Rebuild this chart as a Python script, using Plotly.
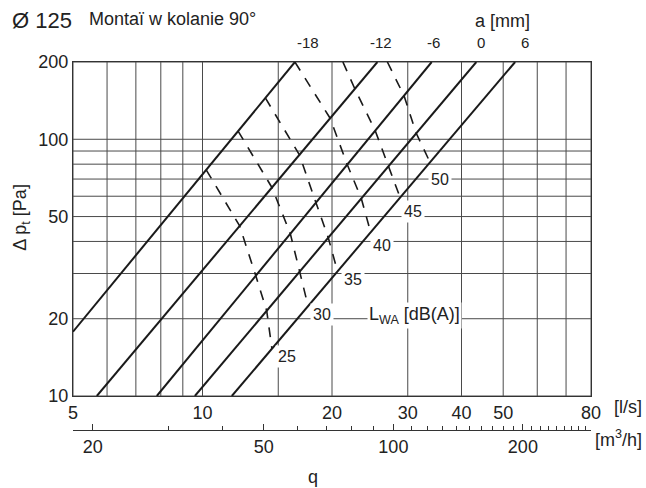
import math
import plotly.graph_objects as go

# Damper setting lines a [mm]: end points (q in l/s, pressure drop in Pa)
damper_labels = ["-18", "-12", "-6", "0", "6"]
damper_q = [[5.0, 16.4], [5.68, 25.5], [7.83, 34.1], [9.6, 43.3], [11.7, 53.3]]
damper_dp = [[17.8, 200], [10, 200], [10, 200], [10, 200], [10, 200]]

# Sound power level curves L_WA [dB(A)]
lwa_levels = ["25", "30", "35", "40", "45", "50"]
lwa_q = [
    [10.2, 12.2, 13.3, 14.1, 14.5],
    [12.1, 14.5, 16.0, 16.8, 17.6],
    [14.0, 16.8, 18.35, 19.6, 20.6],
    [16.4, 19.8, 21.7, 23.4, 24.6],
    [21.2, 22.6, 25.2, 27.05, 28.8],
    [26.9, 29.4, 31.4, 33.8],
]
lwa_dp = [
    [76.0, 46.0, 29.4, 21.5, 15.3],
    [107.6, 64.9, 42.9, 30.4, 22.4],
    [144.9, 87.0, 56.7, 41.4, 30.6],
    [200, 120.8, 79.7, 58.8, 43.4],
    [200, 157.3, 108.1, 78.5, 59.3],
    [200, 147.9, 105.5, 81.3],
]

# Axes
q_ticks = [5, 10, 20, 30, 40, 50, 80]
q_grid = [5, 6, 7, 8, 9, 10, 15, 20, 30, 40, 50, 60, 70, 80]
dp_ticks = [10, 20, 50, 100, 200]
dp_grid = [10, 20, 30, 40, 50, 60, 70, 80, 90, 100, 200]
m3h_major = [20, 50, 100, 200]
m3h_minor = [30, 40, 60, 70, 80, 90, 110, 120, 130, 140, 150, 160, 170, 180,
             190, 210, 220, 230, 240, 250, 260, 270, 280]
q_min, q_max = 5, 80
dp_min, dp_max = 10, 200
LS_TO_M3H = 3.6

FONT = "Liberation Sans, Arial, sans-serif"
TXT = "#222222"
GRID = "#4a4a4a"

fig = go.Figure()

# grid
gx, gy = [], []
for q in q_grid:
    gx += [q, q, None]
    gy += [dp_min, dp_max, None]
for p in dp_grid:
    gx += [q_min, q_max, None]
    gy += [p, p, None]
fig.add_trace(go.Scatter(x=gx, y=gy, mode="lines",
                         line=dict(color=GRID, width=1), hoverinfo="skip"))

# L_WA curves (dashed)
for lvl, qs, ps in zip(lwa_levels, lwa_q, lwa_dp):
    fig.add_trace(go.Scatter(x=qs, y=ps, mode="lines", name=lvl,
                             line=dict(color="#1a1a1a", width=1.6, dash="10px,9px")))

# damper setting lines (solid)
for lab, qs, ps in zip(damper_labels, damper_q, damper_dp):
    fig.add_trace(go.Scatter(x=qs, y=ps, mode="lines", name=lab,
                             line=dict(color="#1a1a1a", width=2)))


def note(x, y, text, size=18, xref="paper", yref="paper", xanchor="center", **kw):
    return dict(x=x, y=y, xref=xref, yref=yref, text=text, showarrow=False,
                xanchor=xanchor, yanchor="middle",
                font=dict(size=size, color=TXT, family=FONT), **kw)


annotations = []
# damper labels along the top
top_label_q = [17.57, 25.95, 34.44, 44.41, 56.1]
for lab, q in zip(damper_labels, top_label_q):
    annotations.append(note(math.log10(q), 1.0524, lab, size=15, xref="x"))
annotations.append(note(0.83, 1.112, "a [mm]"))

# L_WA labels
lwa_label_pos = [(15.70, 14.22), (18.94, 20.68), (22.36, 28.49),
                 (26.20, 38.57), (30.92, 52.32), (35.69, 69.86)]
for lvl, (q, p) in zip(lwa_levels, lwa_label_pos):
    annotations.append(note(math.log10(q), math.log10(p), lvl, size=16,
                            xref="x", yref="y", bgcolor="white", borderpad=2))
annotations.append(note(math.log10(24.1), math.log10(20.5), "L<sub>WA</sub> [dB(A)]",
                        xref="x", yref="y", xanchor="left",
                        bgcolor="white", borderpad=1))

# titles and unit labels
annotations += [
    note(-0.121, 1.112, "Ø 125", size=22, xanchor="left"),
    note(0.0276, 1.117, "Montaï w kolanie 90°", size=18, xanchor="left"),
    note(-0.0985, 0.5796, "Δ p<sub>t</sub> [Pa]", textangle=-90),
    note(1.04, 0.0633, "[l/s]", xanchor="left"),
    note(1.0045, -0.0226, "[m<sup>3</sup>/h]", xanchor="left"),
    note(0.4639, -0.127, "q"),
]

fig.update_layout(
    width=646, height=488,
    margin=dict(l=73, r=55, t=62, b=58),
    paper_bgcolor="white", plot_bgcolor="white",
    showlegend=False,
    font=dict(family=FONT, color=TXT, size=18),
    annotations=annotations,
    xaxis=dict(type="log", range=[math.log10(q_min), math.log10(q_max)],
               tickmode="array", tickvals=q_ticks, ticktext=[str(v) for v in q_ticks],
               showgrid=False, zeroline=False, showline=True, mirror=True,
               linecolor="#333333", linewidth=1, ticks="", anchor="y",
               tickfont=dict(size=18, color=TXT, family=FONT)),
    yaxis=dict(type="log", range=[math.log10(dp_min), math.log10(dp_max)],
               domain=[34 / 368, 1],
               tickmode="array", tickvals=dp_ticks, ticktext=[str(v) for v in dp_ticks],
               showgrid=False, zeroline=False, showline=True, mirror=True,
               linecolor="#333333", linewidth=1, ticks="",
               tickfont=dict(size=18, color=TXT, family=FONT)),
    xaxis2=dict(type="log",
                range=[math.log10(q_min * LS_TO_M3H), math.log10(q_max * LS_TO_M3H)],
                overlaying="x", anchor="free", position=0, side="bottom",
                tickmode="array", tickvals=m3h_major,
                ticktext=[str(v) for v in m3h_major],
                ticks="inside", ticklen=6, tickcolor="#333333",
                minor=dict(tickmode="array", tickvals=m3h_minor, ticks="inside",
                           ticklen=4, tickcolor="#333333", showgrid=False),
                showgrid=False, zeroline=False, showline=True,
                linecolor="#333333", linewidth=1,
                tickfont=dict(size=18, color=TXT, family=FONT)),
)

# keep the second axis visible with an invisible point
fig.add_trace(go.Scatter(x=[q_min * LS_TO_M3H], y=[dp_min], xaxis="x2", yaxis="y",
                         mode="markers", marker=dict(opacity=0), hoverinfo="skip"))

fig.write_html("out.html", config={"displayModeBar": False})
